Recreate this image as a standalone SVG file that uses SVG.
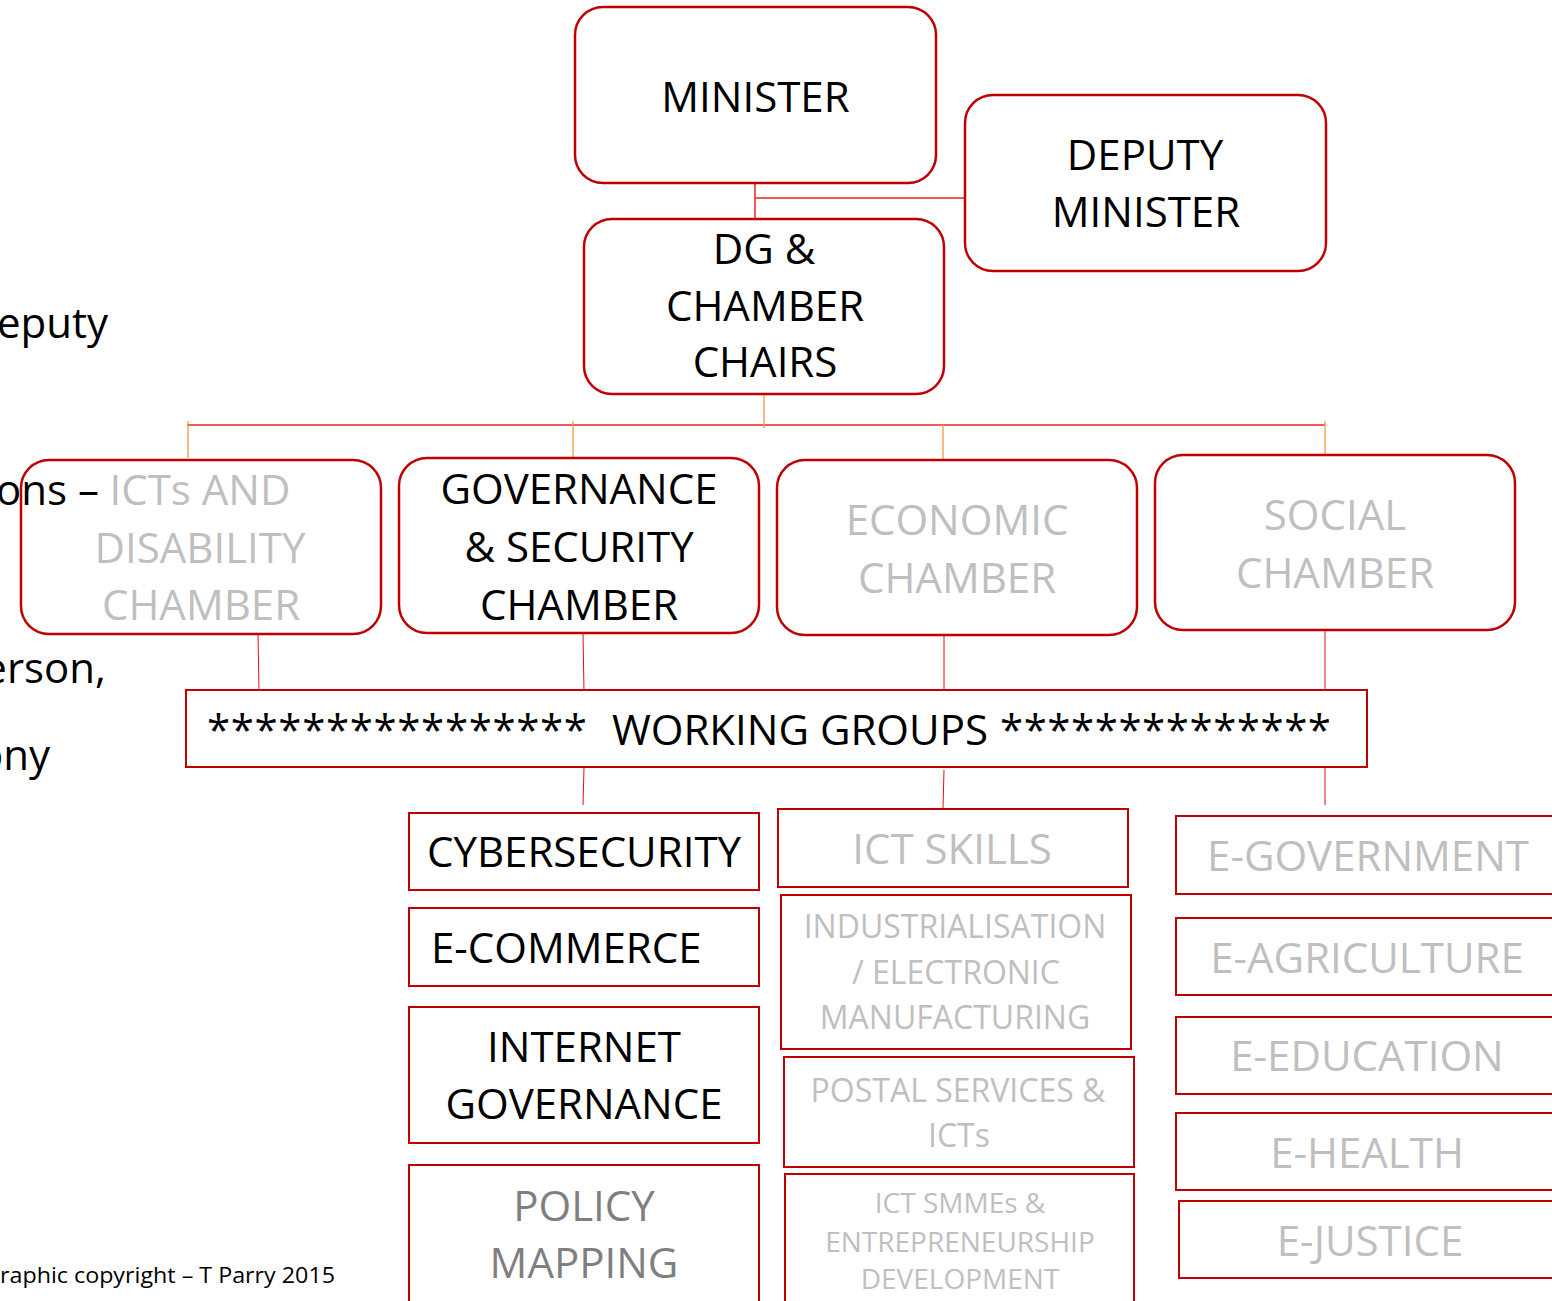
<svg xmlns="http://www.w3.org/2000/svg" width="1552" height="1301" viewBox="0 0 1552 1301">
<style>
text{font-family:"Open Sans","Noto Sans","DejaVu Sans",sans-serif;text-anchor:middle}
.big{font-size:42px}
.mid{font-size:32px}
.sm{font-size:28px}
.blk{fill:#000}
.gry{fill:#bfbfbf}
.dgry{fill:#7f7f7f}
.rbox{fill:#fff;stroke:#c00000;stroke-width:2.5}
.sbox{fill:#fff;stroke:#c00000;stroke-width:2}
.red{stroke:#ee2222;stroke-width:1.5;fill:none}
.thin{stroke:#e81010;stroke-width:1;fill:none}
.org{stroke:#f79646;stroke-width:1.3;fill:none}
.lft{text-anchor:end}
</style>
<rect width="1552" height="1301" fill="#fff"/>
<g id="connectors">
<line class="red" x1="755" y1="183" x2="755" y2="219"/>
<line class="red" x1="755" y1="198" x2="965" y2="198"/>
<line class="red" x1="187" y1="425" x2="1325" y2="425"/>
<line class="org" x1="764" y1="394" x2="764" y2="428"/>
<line class="org" x1="188" y1="421" x2="188" y2="458"/>
<line class="org" x1="573" y1="421" x2="573" y2="457"/>
<line class="org" x1="943" y1="425" x2="943" y2="460"/>
<line class="org" x1="1325" y1="421" x2="1325" y2="455"/>
<line class="thin" x1="258" y1="634" x2="259" y2="690"/>
<line class="thin" x1="583" y1="633" x2="584" y2="693"/>
<line class="thin" x1="944" y1="635" x2="944" y2="690"/>
<line class="thin" x1="1325" y1="631" x2="1325" y2="690"/>
<line class="thin" x1="584" y1="767" x2="583" y2="805"/>
<line class="thin" x1="944" y1="770" x2="943" y2="808"/>
<line class="thin" x1="1325" y1="767" x2="1325" y2="805"/>
</g>
<g id="minister">
<rect class="rbox" x="575" y="7" width="361" height="176" rx="28"/>
<text class="big blk" x="755.5" y="112">MINISTER</text>
</g>
<g id="deputy-minister">
<rect class="rbox" x="965" y="95" width="361" height="176" rx="28"/>
<text class="big blk" x="1145" y="170">DEPUTY</text>
<text class="big blk" x="1146" y="227">MINISTER</text>
</g>
<g id="dg-chamber-chairs">
<rect class="rbox" x="584" y="219" width="360" height="175" rx="28"/>
<text class="big blk" x="764" y="264">DG &amp;</text>
<text class="big blk" x="765" y="321">CHAMBER</text>
<text class="big blk" x="765" y="377">CHAIRS</text>
</g>
<g id="icts-disability-chamber">
<rect class="rbox" x="21" y="460" width="360" height="174" rx="28"/>
<text class="big gry" x="200" y="505">ICTs AND</text>
<text class="big gry" x="200" y="563">DISABILITY</text>
<text class="big gry" x="201" y="620">CHAMBER</text>
</g>
<g id="governance-security-chamber">
<rect class="rbox" x="399" y="458" width="360" height="175" rx="28"/>
<text class="big blk" x="579" y="504">GOVERNANCE</text>
<text class="big blk" x="579" y="562">&amp; SECURITY</text>
<text class="big blk" x="579" y="620">CHAMBER</text>
</g>
<g id="economic-chamber">
<rect class="rbox" x="777" y="460" width="360" height="175" rx="28"/>
<text class="big gry" x="957" y="535">ECONOMIC</text>
<text class="big gry" x="957" y="593">CHAMBER</text>
</g>
<g id="social-chamber">
<rect class="rbox" x="1155" y="455" width="360" height="175" rx="28"/>
<text class="big gry" x="1335" y="530">SOCIAL</text>
<text class="big gry" x="1335" y="588">CHAMBER</text>
</g>
<g id="working-groups">
<rect class="sbox" x="186" y="690" width="1181" height="77"/>
<text class="big blk" x="207" y="745" style="text-anchor:start" textLength="380" lengthAdjust="spacing">****************</text>
<text class="big blk" x="612" y="745" style="text-anchor:start">WORKING GROUPS</text>
<text class="big blk" x="1000" y="745" style="text-anchor:start" textLength="331" lengthAdjust="spacing">**************</text>
</g>
<g id="cybersecurity">
<rect class="sbox" x="409" y="813" width="350" height="77"/>
<text class="big blk" x="584" y="867">CYBERSECURITY</text>
</g>
<g id="e-commerce">
<rect class="sbox" x="409" y="908" width="350" height="78"/>
<text class="big blk" x="431" y="963" style="text-anchor:start">E-COMMERCE</text>
</g>
<g id="internet-governance">
<rect class="sbox" x="409" y="1007" width="350" height="136"/>
<text class="big blk" x="584" y="1062">INTERNET</text>
<text class="big blk" x="584" y="1119">GOVERNANCE</text>
</g>
<g id="policy-mapping">
<rect class="sbox" x="409" y="1165" width="350" height="140"/>
<text class="big dgry" x="584" y="1221">POLICY</text>
<text class="big dgry" x="584" y="1278">MAPPING</text>
</g>
<g id="ict-skills">
<rect class="sbox" x="778" y="809" width="350" height="78"/>
<text class="big gry" x="952" y="864">ICT SKILLS</text>
</g>
<g id="industrialisation">
<rect class="sbox" x="781" y="895" width="350" height="154"/>
<text class="mid gry" x="955" y="938">INDUSTRIALISATION</text>
<text class="mid gry" x="956" y="984">/ ELECTRONIC</text>
<text class="mid gry" x="955" y="1029">MANUFACTURING</text>
</g>
<g id="postal-services">
<rect class="sbox" x="784" y="1057" width="350" height="110"/>
<text class="mid gry" x="958" y="1102">POSTAL SERVICES &amp;</text>
<text class="mid gry" x="959" y="1147">ICTs</text>
</g>
<g id="ict-smmes">
<rect class="sbox" x="785" y="1174" width="349" height="140"/>
<text class="sm gry" x="960" y="1213">ICT SMMEs &amp;</text>
<text class="sm gry" x="960" y="1252">ENTREPRENEURSHIP</text>
<text class="sm gry" x="960" y="1289">DEVELOPMENT</text>
</g>
<g id="e-government">
<rect class="sbox" x="1176" y="816" width="400" height="78"/>
<text class="big gry" x="1368" y="871">E-GOVERNMENT</text>
</g>
<g id="e-agriculture">
<rect class="sbox" x="1176" y="918" width="400" height="77"/>
<text class="big gry" x="1367" y="973">E-AGRICULTURE</text>
</g>
<g id="e-education">
<rect class="sbox" x="1176" y="1017" width="400" height="77"/>
<text class="big gry" x="1367" y="1071">E-EDUCATION</text>
</g>
<g id="e-health">
<rect class="sbox" x="1176" y="1113" width="400" height="77"/>
<text class="big gry" x="1367" y="1168">E-HEALTH</text>
</g>
<g id="e-justice">
<rect class="sbox" x="1179" y="1201" width="400" height="77"/>
<text class="big gry" x="1370" y="1256">E-JUSTICE</text>
</g>
<g id="background-text">
<text class="big blk lft" x="108" y="338">eputy</text>
<text class="big blk lft" x="99" y="505">ons –</text>
<text class="big blk lft" x="106" y="683">erson,</text>
<text class="big blk lft" x="50" y="770">ony</text>
<text class="blk" x="0" y="1283" style="font-size:22px;text-anchor:start" textLength="335" lengthAdjust="spacingAndGlyphs">raphic copyright – T Parry 2015</text>
</g>
</svg>
